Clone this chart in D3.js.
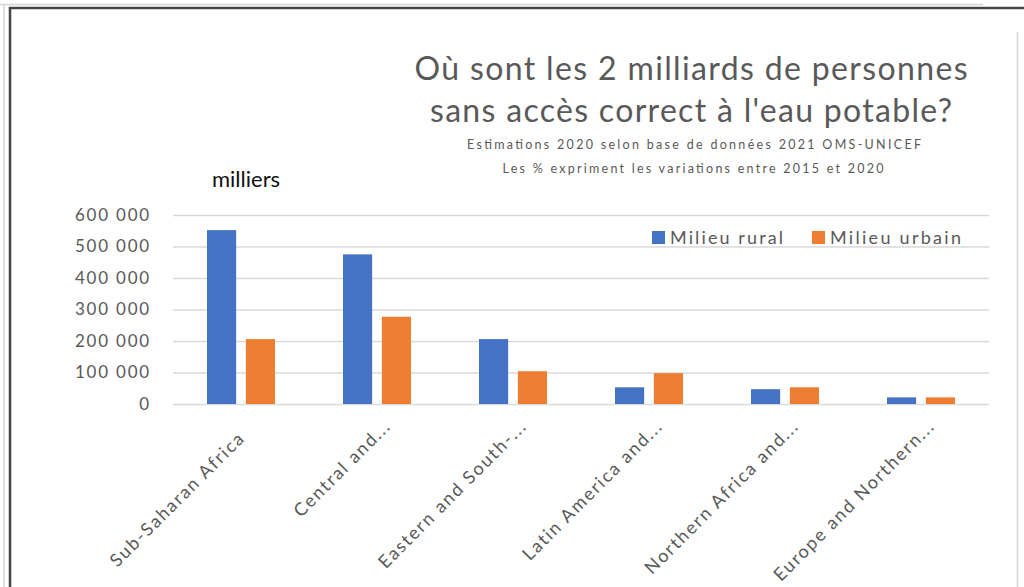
<!DOCTYPE html>
<html>
<head>
<meta charset="utf-8">
<script src="https://cdn.jsdelivr.net/npm/d3@7"></script>
<style>
    body { margin: 0; background: #fff; }
    svg { display: block; font-family: Lato, "Open Sans", sans-serif; }
</style>
</head>
<body>
<div id="chart"></div>
<script>
// categories (full names) and what Excel shows on the axis
var regions = ["Sub-Saharan Africa", "Central and Southern Asia", "Eastern and South-Eastern Asia",
    "Latin America and the Caribbean", "Northern Africa and Western Asia", "Europe and Northern America"];
var tickLabels = ["Sub-Saharan Africa", "Central and...", "Eastern and South-...",
    "Latin America and...", "Northern Africa and...", "Europe and Northern..."];

// thousands of people
var rural = [552000, 475000, 206000, 53000, 47000, 21000];
var urbain = [206000, 277000, 104000, 98000, 53000, 21000];

var seriesNames = ["Milieu rural", "Milieu urbain"];
var seriesColors = ["#4472c4", "#ed7d31"];
var yTicks = [0, 100000, 200000, 300000, 400000, 500000, 600000];

var svgWidth = 1024;
var svgHeight = 587;

var margin = { top: 215, right: 35, bottom: 183, left: 173 };
var width = svgWidth - margin.left - margin.right;
var height = svgHeight - margin.top - margin.bottom;

var svg = d3.select("#chart")
    .append("svg")
    .attr("width", svgWidth)
    .attr("height", svgHeight);

// frame like the screenshot of the Excel sheet
svg.append("line").attr("x1", 0).attr("x2", 983).attr("y1", 4.5).attr("y2", 4.5)
    .attr("stroke", "#d4d4d4").attr("stroke-width", 1.5);
svg.append("line").attr("x1", 4).attr("x2", 4).attr("y1", 4).attr("y2", svgHeight)
    .attr("stroke", "#d4d4d4").attr("stroke-width", 1.5);
svg.append("line").attr("x1", 1017.5).attr("x2", 1017.5).attr("y1", 32).attr("y2", svgHeight)
    .attr("stroke", "#d4d4d4").attr("stroke-width", 1.5);
svg.append("path")
    .attr("d", `M10,${svgHeight} L10,8 L${svgWidth},8`)
    .attr("fill", "none")
    .attr("stroke", "#444")
    .attr("stroke-width", 2.5);

var chartGroup = svg.append("g")
    .attr("transform", `translate(${margin.left}, ${margin.top})`);

var fr = d3.formatLocale({ decimal: ",", thousands: " ", grouping: [3], currency: ["", " €"] });

var x0 = d3.scaleBand()
    .domain(regions)
    .range([0, width]);

var x1 = d3.scaleBand()
    .domain(seriesNames)
    .range([0, 68])
    .paddingInner(0.25);

var yLinearScale = d3.scaleLinear()
    .domain([0, 600000])
    .range([height, 0]);

// gridlines
chartGroup.append("g")
    .call(d3.axisLeft(yLinearScale).tickValues(yTicks).tickSize(-width).tickFormat(""))
    .call(g => g.select(".domain").remove())
    .call(g => g.selectAll("line").attr("stroke", "#d9d9d9").attr("stroke-width", 1.3));

// y labels
chartGroup.append("g")
    .attr("transform", "translate(-19, 0)")
    .call(d3.axisLeft(yLinearScale).tickValues(yTicks).tickSize(0).tickFormat(fr.format(",d")))
    .call(g => g.select(".domain").remove())
    .call(g => g.selectAll("text").attr("fill", "#595959").attr("font-size", "17px")
        .attr("letter-spacing", "1.8px")
        .attr("font-family", "Lato, 'Open Sans', sans-serif"));

// bars
var data = regions.map((r, i) => ({ region: r, values: [rural[i], urbain[i]] }));

var groups = chartGroup.selectAll(".grp")
    .data(data)
    .enter()
    .append("g")
    .attr("transform", d => `translate(${x0(d.region) + x0.bandwidth() / 2 - 34}, 0)`);

groups.selectAll("rect")
    .data(d => d.values.map((v, j) => ({ name: seriesNames[j], value: v, color: seriesColors[j] })))
    .enter()
    .append("rect")
    .attr("x", d => x1(d.name))
    .attr("width", x1.bandwidth())
    .attr("y", d => yLinearScale(d.value))
    .attr("height", d => height - yLinearScale(d.value))
    .attr("fill", d => d.color);

// x labels rotated
var xAxis = chartGroup.append("g")
    .attr("transform", `translate(0, ${height})`)
    .call(d3.axisBottom(x0).tickSize(0).tickFormat((d, i) => tickLabels[i]))
    .call(g => g.select(".domain").remove());

xAxis.selectAll("text")
    .attr("fill", "#595959")
    .attr("font-size", "18px")
    .attr("letter-spacing", "1.8px")
    .attr("font-family", "Lato, 'Open Sans', sans-serif")
    .attr("text-anchor", "end")
    .attr("dy", "0")
    .attr("transform", (d, i) => i === 0 ? "translate(3, 33) rotate(-45)" : "translate(13, 21) rotate(-45)");

// legend
var legend = svg.append("g")
    .attr("transform", "translate(652, 231)");

var legendLen = [113, 131];
seriesNames.forEach(function (name, i) {
    var lg = legend.append("g").attr("transform", `translate(${i * 160}, 0)`);
    lg.append("rect").attr("width", 13).attr("height", 13).attr("fill", seriesColors[i]);
    lg.append("text")
        .attr("x", 18)
        .attr("y", 13)
        .attr("font-size", "18px")
        .attr("textLength", legendLen[i])
        .attr("lengthAdjust", "spacing")
        .attr("fill", "#595959")
        .text(name);
});

// titles
svg.append("text")
    .attr("x", 691).attr("y", 80)
    .attr("text-anchor", "middle")
    .attr("font-size", "32px")
    .attr("textLength", 553)
    .attr("lengthAdjust", "spacing")
    .attr("fill", "#595959")
    .text("Où sont les 2 milliards de personnes");

svg.append("text")
    .attr("x", 691).attr("y", 122)
    .attr("text-anchor", "middle")
    .attr("font-size", "32px")
    .attr("textLength", 522)
    .attr("lengthAdjust", "spacing")
    .attr("fill", "#595959")
    .text("sans accès correct à l'eau potable?");

svg.append("text")
    .attr("x", 694).attr("y", 149)
    .attr("text-anchor", "middle")
    .attr("font-size", "12.5px")
    .attr("textLength", 454)
    .attr("lengthAdjust", "spacing")
    .attr("fill", "#595959")
    .text("Estimations  2020  selon base de données  2021 OMS-UNICEF");

svg.append("text")
    .attr("x", 693).attr("y", 173)
    .attr("text-anchor", "middle")
    .attr("font-size", "12.5px")
    .attr("textLength", 381)
    .attr("lengthAdjust", "spacing")
    .attr("fill", "#595959")
    .text("Les % expriment  les variations entre  2015 et 2020");

svg.append("text")
    .attr("x", 212).attr("y", 187)
    .attr("font-size", "22px")
    .attr("fill", "#111")
    .text("milliers");
</script>
</body>
</html>
